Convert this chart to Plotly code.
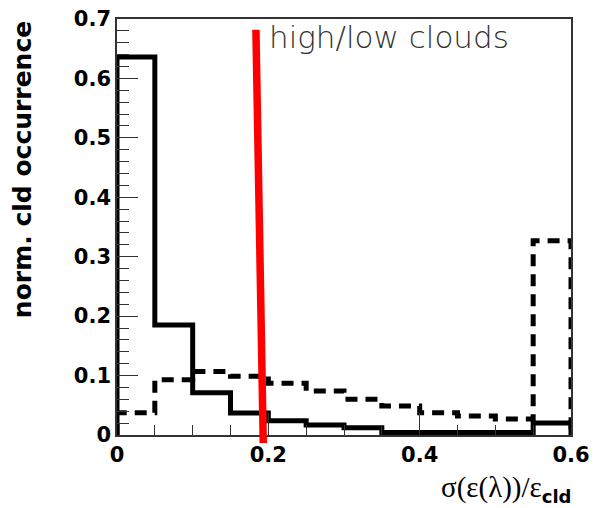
import plotly.graph_objects as go

# bin edges and histogram contents (bin width 0.05)
bin_edges = [0.0, 0.05, 0.10, 0.15, 0.20, 0.25, 0.30, 0.35, 0.40, 0.45, 0.50, 0.55, 0.60]
solid_vals = [0.636, 0.185, 0.071, 0.037, 0.024, 0.017, 0.012, 0.004, 0.004, 0.004, 0.004, 0.020]
dashed_vals = [0.0375, 0.093, 0.107, 0.099, 0.087, 0.074, 0.060, 0.049, 0.0375, 0.032, 0.027, 0.327]

# red cut line (x, y) end points in data units
cut_x = [0.1836, 0.1933]
cut_y = [0.682, -0.0135]

y_range = [0, 0.7]
x_range = [0, 0.6]
x_ticks = [0, 0.2, 0.4, 0.6]
x_ticktext = ["0", "0.2", "0.4", "0.6"]
y_ticks = [0, 0.1, 0.2, 0.3, 0.4, 0.5, 0.6, 0.7]
y_ticktext = ["0", "0.1", "0.2", "0.3", "0.4", "0.5", "0.6", "0.7"]


def step_xy(edges, vals):
    xs = [edges[0]] + edges[:-1] + [edges[-1]]
    ys = [0] + vals + [0]
    return xs, ys


fig = go.Figure()
sx, sy = step_xy(bin_edges, solid_vals)
dx, dy = step_xy(bin_edges, dashed_vals)

fig.add_trace(go.Scatter(x=dx, y=dy, mode="lines", line_shape="hv",
                         line=dict(color="black", width=5, dash="12px,8px"),
                         showlegend=False, hoverinfo="skip"))
fig.add_trace(go.Scatter(x=sx, y=sy, mode="lines", line_shape="hv",
                         line=dict(color="black", width=5),
                         showlegend=False, hoverinfo="skip"))

# red line, y converted to paper units so it can extend below the axis
fig.add_shape(type="line", xref="x", yref="paper",
              x0=cut_x[0], x1=cut_x[1],
              y0=(cut_y[0] - y_range[0]) / (y_range[1] - y_range[0]),
              y1=(cut_y[1] - y_range[0]) / (y_range[1] - y_range[0]),
              line=dict(color="#ff0000", width=7.5))

fig.add_annotation(text="high/low clouds", x=0.198, y=0.670, xref="x", yref="y",
                   xanchor="left", yanchor="middle", showarrow=False,
                   font=dict(family="DejaVu Sans", size=31, color="#333333", weight=200))

fig.add_annotation(text="norm. cld occurrence", textangle=-90,
                   x=-0.208, y=0.638, xref="paper", yref="paper",
                   xanchor="center", yanchor="middle", showarrow=False,
                   font=dict(family="DejaVu Sans", size=25, color="black", weight="bold"))

fig.add_annotation(text="σ(ε(λ))/ε<sub><span style='font-family:DejaVu Sans;font-weight:bold;font-size:18px'>cld</span></sub>",
                   x=1.005, y=-0.13, xref="paper", yref="paper",
                   xanchor="right", yanchor="middle", showarrow=False,
                   font=dict(family="Liberation Serif", size=29, color="black"))

tickfont = dict(family="DejaVu Sans", size=21, color="black", weight="bold")

fig.update_layout(
    width=593, height=508,
    margin=dict(l=117, r=22, t=19, b=73, autoexpand=False),
    paper_bgcolor="white", plot_bgcolor="white",
    xaxis=dict(range=x_range, tickvals=x_ticks, ticktext=x_ticktext, automargin=False,
               ticks="inside", ticklen=22, tickwidth=1.2, tickcolor="#333",
               minor=dict(dtick=0.05, ticks="inside", ticklen=10, tickwidth=1.2, tickcolor="#333"),
               showgrid=False, zeroline=False, showline=True, linecolor="#333", linewidth=1.5,
               mirror=True, tickfont=tickfont),
    yaxis=dict(range=y_range, tickvals=y_ticks, ticktext=y_ticktext, automargin=False,
               ticks="inside", ticklen=21, tickwidth=1.2, tickcolor="#333",
               minor=dict(dtick=0.02, ticks="inside", ticklen=12, tickwidth=1.2, tickcolor="#333"),
               showgrid=False, zeroline=False, showline=True, linecolor="#333", linewidth=1.5,
               mirror=True, tickfont=tickfont),
)

fig.write_html("out.html")
